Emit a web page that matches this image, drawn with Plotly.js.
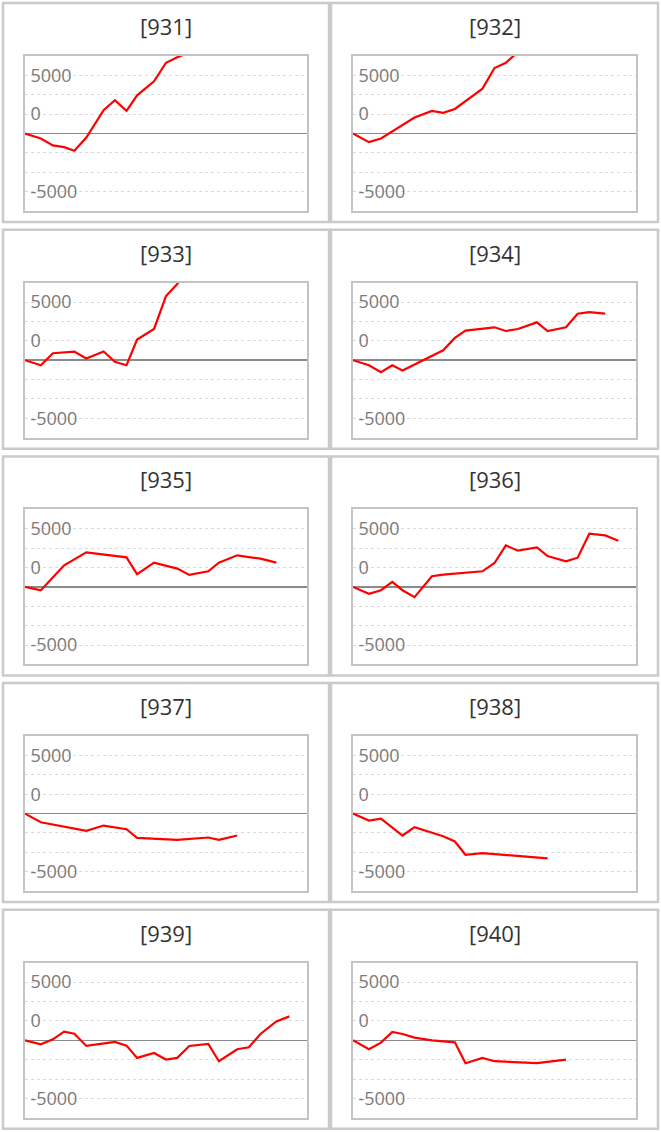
<!DOCTYPE html>
<html>
<head>
<meta charset="utf-8">
<script src="https://cdn.plot.ly/plotly-3.0.1.min.js"></script>
<style>
  html, body { margin: 0; padding: 0; background: #fff; }
  #chart { width: 661px; height: 1132px; }
</style>
</head>
<body>
<div id="chart"></div>
<script>
// shared day grid (x positions of the readings)
const days = [0, 4.5, 7.9, 11.1, 14.0, 17.4, 22.3, 25.5, 28.8, 31.8, 36.6, 40.0, 43.2, 46.6, 52.0, 55.0, 60.2, 63.5, 66.8, 71.3, 75.0];

const panelNames = ['[931]', '[932]', '[933]', '[934]', '[935]', '[936]', '[937]', '[938]', '[939]', '[940]'];

// values per panel, null = no reading on that day
const s931 = [0, -429, -1029, -1171, -1486, -343, 2000, 2857, 1943, 3286, 4486, 6086, 6550, 7000];
const s932 = [0, -743, -429, null, null, 1371, 1943, 1771, 2114, null, 3857, 5629, 6086, 7000];
const s933 = [0, -429, 600, null, 743, 143, 743, -143, -429, 1771, 2686, 5514, 6550, 8000];
const s934 = [0, -429, -1029, -429, -886, null, null, 857, 1914, 2543, null, 2829, 2514, 2686, 3257, 2514, 2829, 4000, 4143, 4000];
const s935 = [0, -286, null, 1857, null, 2971, null, null, 2543, 1086, 2086, null, 1571, 1029, 1343, 2086, 2714, null, 2429, 2086];
const s936 = [0, -600, -286, 429, -286, -886, 914, 1057, null, null, 1343, 2057, 3571, 3114, 3400, 2657, 2200, 2514, 4571, 4429, 3971];
const s937 = [0, -743, null, null, null, -1486, -1029, null, -1343, -2086, null, null, -2257, null, -2057, -2257, -1886];
const s938 = [0, -600, -429, null, -1886, -1171, null, -1943, -2400, -3543, -3400, null, null, null, null, -3857];
const s939 = [0, -343, 86, 743, 571, -486, null, -143, -457, -1514, -1086, -1657, -1514, -486, -314, -1800, -771, -600, 543, 1629, 2057];
const s940 = [0, -771, -200, 714, 543, 229, 0, null, -171, -1971, -1514, -1800, null, null, -1971, null, -1657];

const series = [s931, s932, s933, s934, s935, s936, s937, s938, s939, s940];

const yGrid = [-5000, -3333.3, -1666.7, 0, 1666.7, 3333.3, 5000];
const yText = ['-5000', '', '', '', '0', '', '5000'];

const W = 661, H = 1132;
const px = v => v / W;
const py = v => 1 - v / H;
const FONT = '"Open Sans", "Noto Sans", sans-serif';

const data = [];
const shapes = [];
const annotations = [];
const layout = {
  width: W,
  height: H,
  margin: { l: 0, r: 0, t: 0, b: 0 },
  paper_bgcolor: '#fff',
  plot_bgcolor: '#fff',
  showlegend: false,
  font: { family: FONT },
};

series.forEach((vals, i) => {
  const col = i % 2;
  const row = Math.floor(i / 2);
  const panelL = col ? 331 : 3;
  const panelR = col ? 658 : 329;
  const top = 3 + row * 226.7;
  const plotL = panelL + 22;
  const plotR = panelR - 22;
  const plotT = top + 53;
  const plotB = top + 208;
  const n = i === 0 ? '' : String(i + 1);

  data.push({
    x: days.slice(0, vals.length),
    y: vals,
    xaxis: 'x' + n,
    yaxis: 'y' + n,
    type: 'scatter',
    mode: 'lines',
    connectgaps: true,
    line: { color: '#ff0000', width: 2.2 },
    hoverinfo: 'skip',
  });

  layout['xaxis' + n] = {
    domain: [px(plotL), px(plotR)],
    anchor: 'y' + n,
    range: [0, 80],
    showgrid: false,
    zeroline: false,
    showticklabels: false,
    ticks: '',
    showline: true,
    mirror: true,
    linecolor: '#c4c4c4',
    linewidth: 2,
    fixedrange: true,
  };
  layout['yaxis' + n] = {
    domain: [py(plotB), py(plotT)],
    anchor: 'x' + n,
    range: [-6667, 6667],
    tickmode: 'array',
    tickvals: yGrid,
    ticktext: yText,
    ticks: '',
    ticklabelposition: 'inside',
    ticklabelstandoff: 6,
    tickfont: { size: 18, color: '#7a7a7a', family: FONT },
    showgrid: true,
    gridcolor: '#d9d9d9',
    griddash: 'dot',
    gridwidth: 1,
    zeroline: true,
    zerolinecolor: '#8a8a8a',
    zerolinewidth: 1.5,
    showline: true,
    mirror: true,
    linecolor: '#c4c4c4',
    linewidth: 2,
    fixedrange: true,
  };

  // panel frame
  shapes.push({
    type: 'rect',
    xref: 'paper', yref: 'paper',
    x0: px(panelL), x1: px(panelR),
    y0: py(top + 219), y1: py(top),
    line: { color: '#cacaca', width: 2.5 },
  });

  annotations.push({
    text: panelNames[i],
    xref: 'paper', yref: 'paper',
    x: px((panelL + panelR) / 2),
    y: py(top + 23),
    xanchor: 'center', yanchor: 'middle',
    showarrow: false,
    font: { size: 22, color: '#333333', family: FONT },
  });
});

layout.shapes = shapes;
layout.annotations = annotations;

Plotly.newPlot('chart', data, layout, { displayModeBar: false, staticPlot: true });
</script>
</body>
</html>
